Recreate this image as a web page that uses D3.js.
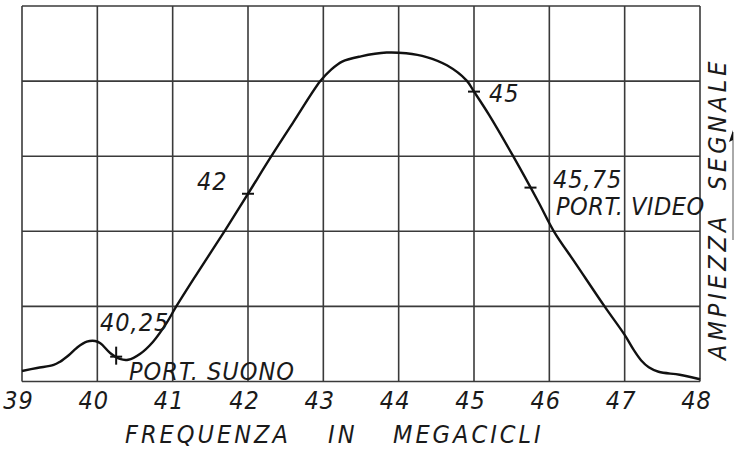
<!DOCTYPE html>
<html>
<head>
<meta charset="utf-8">
<script src="https://cdn.jsdelivr.net/npm/d3@7"></script>
<style>
  html, body { margin: 0; padding: 0; background: #fff; }
  svg { display: block; }
  text { font-family: "DejaVu Sans", sans-serif; font-style: italic; font-stretch: condensed; fill: #1a1a1a; }
</style>
</head>
<body>
<svg id="chart" width="735" height="450"></svg>
<script>
// Response curve: frequency (MHz) and relative signal amplitude (grid units)
const freq = [39, 39.2, 39.42, 39.5, 39.62, 39.73, 39.86, 39.97, 40.04, 40.17, 40.3, 40.41,
              40.57, 40.74, 40.92, 41.03, 41.3, 41.7, 42, 42.31, 42.6, 42.96, 43.1, 43.25,
              43.5, 43.84, 44.1, 44.37, 44.64, 44.9, 45, 45.2, 45.52, 45.85, 46.06, 46.35,
              46.74, 47.0, 47.12, 47.22, 47.32, 47.45, 47.73, 48];
const amp  = [0.14, 0.18, 0.22, 0.26, 0.35, 0.45, 0.53, 0.54, 0.51, 0.38, 0.30, 0.29,
              0.37, 0.53, 0.78, 0.97, 1.40, 2.02, 2.50, 3.00, 3.45, 4.00, 4.15, 4.26,
              4.33, 4.38, 4.37, 4.32, 4.21, 4.01, 3.86, 3.55, 3.00, 2.40, 2.00, 1.57,
              0.99, 0.62, 0.42, 0.28, 0.19, 0.13, 0.09, 0.03];

// Axis ticks and grid
const xTicks = [39, 40, 41, 42, 43, 44, 45, 46, 47, 48];
const yGrid = [0, 1, 2, 3, 4, 5];

// Marked carriers on the curve
const markFreq  = [40.25, 42, 45, 45.75];
const markLabel = ["40,25", "42", "45", "45,75"];
const carrierNames = ["PORT. SUONO", "PORT. VIDEO"];

const xTitleWords = ["FREQUENZA", "IN", "MEGACICLI"];
const yTitle = "AMPIEZZA  SEGNALE";

const svg = d3.select("#chart");
const x = d3.scaleLinear().domain([39, 48]).range([22, 700]);
const y = d3.scaleLinear().domain([0, 5]).range([381.5, 6]);
const FS = "25px";

// amplitude on the curve at a given frequency (linear between points)
function ampAt(f) {
  const i = d3.bisectLeft(freq, f);
  if (freq[i] === f) return amp[i];
  const t = (f - freq[i - 1]) / (freq[i] - freq[i - 1]);
  return amp[i - 1] + t * (amp[i] - amp[i - 1]);
}

// grid
const grid = svg.append("g").attr("stroke", "#3a3a3a").attr("stroke-width", 1.6);
grid.selectAll("line.v").data(xTicks).join("line")
  .attr("x1", d => x(d)).attr("x2", d => x(d))
  .attr("y1", y(5)).attr("y2", y(0));
grid.selectAll("line.h").data(yGrid).join("line")
  .attr("x1", x(39)).attr("x2", x(48))
  .attr("y1", d => y(d)).attr("y2", d => y(d));

// x axis labels
const xAxis = d3.axisBottom(x).tickValues(xTicks).tickSize(0).tickPadding(0)
  .tickFormat(d3.format("d"));
const ax = svg.append("g").attr("transform", `translate(-4,${y(0)})`).call(xAxis);
ax.select(".domain").remove();
ax.selectAll("text")
  .attr("y", 27).attr("dy", 0)
  .style("font-size", FS).style("font-family", "DejaVu Sans").style("font-style", "italic")
  .style("font-stretch", "condensed").style("letter-spacing", "1px")
  .attr("fill", "#1a1a1a");

// curve
const line = d3.line().x((d, i) => x(freq[i])).y((d, i) => y(amp[i])).curve(d3.curveCatmullRom.alpha(0.5));
svg.append("path").datum(amp).attr("d", line)
  .attr("fill", "none").attr("stroke", "#111").attr("stroke-width", 2.4)
  .attr("stroke-linejoin", "round");

// carrier marks
const marks = svg.append("g").attr("stroke", "#111").attr("stroke-width", 2);
markFreq.forEach((f, i) => {
  const cx = x(f), cy = y(ampAt(f));
  marks.append("line").attr("x1", cx - 6).attr("x2", cx + 6).attr("y1", cy).attr("y2", cy);
  if (i === 0) marks.append("line").attr("x1", cx).attr("x2", cx).attr("y1", cy - 10).attr("y2", cy + 8);
});

// labels
const labelPos = [[100, 331], [197, 190], [489, 102], [553, 188]];
svg.selectAll("text.mk").data(markLabel).join("text").attr("class", "mk")
  .attr("x", (d, i) => labelPos[i][0]).attr("y", (d, i) => labelPos[i][1])
  .style("font-size", FS).style("letter-spacing", "1px").text(d => d);

svg.append("text").attr("x", 129).attr("y", 380).style("font-size", FS)
  .style("letter-spacing", "1px").text(carrierNames[0]);
svg.append("text").attr("x", 556).attr("y", 215).style("font-size", FS)
  .style("letter-spacing", "0.5px").text(carrierNames[1]);

// x axis title, words spread across the width
const xTitleX = [125, 328, 393];
svg.selectAll("text.xt").data(xTitleWords).join("text").attr("class", "xt")
  .attr("x", (d, i) => xTitleX[i]).attr("y", 443)
  .style("font-size", FS).style("letter-spacing", "3px").text(d => d);

// y axis title
svg.append("text").attr("transform", "translate(726,360) rotate(-90)")
  .style("font-size", FS).style("white-space", "pre").style("letter-spacing", "4px")
  .text(yTitle);

// arrow along the amplitude title
svg.append("line").attr("x1", 733).attr("x2", 733).attr("y1", 132).attr("y2", 240)
  .attr("stroke", "#555").attr("stroke-width", 1);
svg.append("path").attr("d", "M733,130 L729,142 L733,140 Z").attr("fill", "#111");
</script>
</body>
</html>
